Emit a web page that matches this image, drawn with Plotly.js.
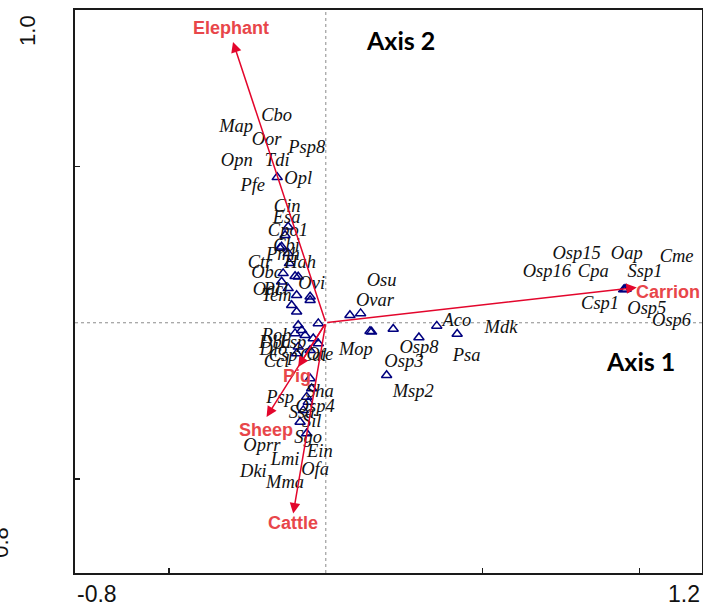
<!DOCTYPE html>
<html>
<head>
<meta charset="utf-8">
<script src="https://cdn.plot.ly/plotly-3.0.1.min.js"></script>
<style>html,body{margin:0;padding:0;background:#fff;}#chart{width:703px;height:608px;}</style>
</head>
<body>
<div id="chart"></div>
<script>
// Species sample scores (triangles)
const speciesX = [0.950, 0.954, 0.958,
  0.077, 0.111, 0.141, 0.146, 0.215, 0.297, 0.354, 0.419, 0.194,
  -0.155, -0.120, -0.130, -0.141, -0.120, -0.146, -0.116, -0.136, -0.098, -0.088, -0.141, -0.120, -0.093, -0.050, -0.109, -0.093, -0.050,
  -0.088, -0.077, -0.098, -0.066, -0.024, -0.040, -0.088, -0.024, -0.050, -0.093, -0.050, -0.045, -0.061, -0.056, -0.072, -0.082, -0.061];
const speciesY = [0.106, 0.107, 0.108,
  0.024, 0.030, -0.027, -0.029, -0.020, -0.047, -0.010, -0.036, -0.168,
  0.465, 0.307, 0.280, 0.243, 0.222, 0.239, 0.190, 0.158, 0.149, 0.147, 0.131, 0.110, 0.088, 0.083, 0.056, 0.035, 0.072,
  -0.008, -0.024, -0.034, -0.040, -0.002, -0.050, -0.077, -0.066, -0.088, -0.098, -0.178, -0.210, -0.237, -0.253, -0.280, -0.317, -0.354];

// Species labels and label positions
const labelNames = ["Osp15","Oap","Cme","Osp16","Cpa","Ssp1","Csp1","Osp5","Osp6",
  "Osu","Ovar","Aco","Mdk","Mop","Osp8","Osp3","Psa","Msp2",
  "Cbo","Map","Oor","Psp8","Opn","Tdi","Opl","Pfe","Cin","Esa","Cpo1","Cbi","Pmh","Ctr","Hah","Obc","Ovi","Oal","Pcl","Tem",
  "Rob","Dba","Dlo","Csp","Ccl","Cal","Ote","Lsp","Sha","Psp","Osp4","Ssa","Sil","Sgo","Oprr","Ein","Lmi","Dki","Ofa","Mma"];
const labelX = [0.800, 0.960, 1.119, 0.705, 0.853, 1.018, 0.875, 1.024, 1.103,
  0.178, 0.157, 0.418, 0.559, 0.096, 0.297, 0.249, 0.449, 0.279,
  -0.157, -0.286, -0.189, -0.061, -0.284, -0.155, -0.088, -0.233, -0.123, -0.125, -0.121, -0.125, -0.137, -0.210, -0.082, -0.189, -0.045, -0.189, -0.159, -0.157,
  -0.157, -0.162, -0.167, -0.136, -0.157, -0.040, -0.019, -0.105, -0.019, -0.146, -0.034, -0.077, -0.045, -0.056, -0.204, -0.019, -0.130, -0.231, -0.034, -0.130];
const labelY = [0.219, 0.219, 0.209, 0.160, 0.160, 0.160, 0.060, 0.044, 0.003,
  0.131, 0.067, 0.003, -0.018, -0.088, -0.082, -0.125, -0.109, -0.221,
  0.659, 0.625, 0.582, 0.558, 0.515, 0.515, 0.459, 0.435, 0.369, 0.335, 0.291, 0.243, 0.216, 0.190, 0.191, 0.158, 0.123, 0.104, 0.104, 0.083,
  -0.045, -0.066, -0.088, -0.109, -0.125, -0.109, -0.104, -0.065, -0.221, -0.242, -0.269, -0.290, -0.317, -0.370, -0.394, -0.413, -0.440, -0.477, -0.472, -0.514];

// Environmental variables (arrows)
const envNames = ["Elephant","Carrion","Cattle","Sheep","Pig"];
const envX = [-0.296, 0.992, -0.104, -0.189, -0.088];
const envY = [0.898, 0.113, -0.610, -0.301, -0.141];
const envLabelX = [-0.302, 1.092, -0.105, -0.191, -0.092];
const envLabelY = [0.942, 0.098, -0.641, -0.343, -0.171];

const xTicks = [-0.5, 0.5, 1.0];
const yTicks = [-0.5, 0.5];

const arrowColor = "#e3062c";
const envLabelColor = "#e8464a";

const traces = [
  {
    type: "scatter", mode: "markers", x: speciesX, y: speciesY,
    marker: {symbol: "triangle-up-open", size: 9, color: "#00007f", line: {width: 1.5, color: "#00007f"}},
    hoverinfo: "skip", showlegend: false
  },
  {
    type: "scatter", mode: "text", x: labelX, y: labelY, text: labelNames,
    textposition: "middle center",
    textfont: {family: "Liberation Serif, Times New Roman, serif", size: 18.5, style: "italic", color: "#111"},
    hoverinfo: "skip", showlegend: false
  }
];

const annotations = [];
for (let i = 0; i < envNames.length; i++) {
  annotations.push({
    x: envX[i], y: envY[i], xref: "x", yref: "y",
    ax: 0, ay: 0, axref: "x", ayref: "y",
    text: "", showarrow: true, arrowhead: 2, arrowsize: 1.4, arrowwidth: 1.5,
    arrowcolor: arrowColor, standoff: 0, startstandoff: 0
  });
}
for (let i = 0; i < envNames.length; i++) {
  annotations.push({
    x: envLabelX[i], y: envLabelY[i], xref: "x", yref: "y",
    text: envNames[i], showarrow: false,
    font: {family: "Liberation Sans, Arial, sans-serif", size: 18, weight: 700, color: envLabelColor}
  });
}
annotations.push({x: 0.237, y: 0.904, xref: "x", yref: "y", text: "<b>Axis 2</b>", showarrow: false,
  font: {family: "Lato, Open Sans, sans-serif", size: 25, color: "#000"}});
annotations.push({x: 1.005, y: -0.123, xref: "x", yref: "y", text: "<b>Axis 1</b>", showarrow: false,
  font: {family: "Lato, Open Sans, sans-serif", size: 25, color: "#000"}});
// axis end labels
const tickFont = {family: "Liberation Sans, Arial, sans-serif", size: 23, color: "#111"};
annotations.push({x: 0, y: -0.038, xref: "paper", yref: "paper", xanchor: "left", yanchor: "middle",
  text: "-0.8", showarrow: false, font: tickFont});
annotations.push({x: 1, y: -0.038, xref: "paper", yref: "paper", xanchor: "right", yanchor: "middle",
  text: "1.2", showarrow: false, font: tickFont});
annotations.push({x: -0.075, y: 0.9645, xref: "paper", yref: "paper", xanchor: "center", yanchor: "middle",
  text: "1.0", textangle: -90, showarrow: false, font: {family: "Liberation Sans, Arial, sans-serif", size: 22, color: "#111"}});
annotations.push({x: -0.118, y: 0.0537, xref: "paper", yref: "paper", xanchor: "center", yanchor: "middle",
  text: "0.8", textangle: -90, showarrow: false, font: {family: "Liberation Sans, Arial, sans-serif", size: 22, color: "#111"}});

const layout = {
  width: 703, height: 608,
  margin: {l: 75, r: 1, t: 10, b: 35},
  paper_bgcolor: "#fff", plot_bgcolor: "#fff",
  showlegend: false,
  xaxis: {range: [-0.8, 1.2], showgrid: false, zeroline: false, showline: true, mirror: true,
    linecolor: "#1a1a1a", linewidth: 2, ticks: "inside", ticklen: 5, tickwidth: 1.5, tickcolor: "#1a1a1a",
    tickvals: xTicks, showticklabels: false, fixedrange: true},
  yaxis: {range: [-0.8, 1.0], showgrid: false, zeroline: false, showline: true, mirror: true,
    linecolor: "#1a1a1a", linewidth: 2, ticks: "inside", ticklen: 5, tickwidth: 1.5, tickcolor: "#1a1a1a",
    tickvals: yTicks, showticklabels: false, fixedrange: true},
  shapes: [
    {type: "line", xref: "x", yref: "paper", x0: 0, x1: 0, y0: 0, y1: 1, layer: "below",
      line: {color: "#8a8a8a", width: 1, dash: "dot"}},
    {type: "line", xref: "paper", yref: "y", x0: 0, x1: 1, y0: 0, y1: 0, layer: "below",
      line: {color: "#8a8a8a", width: 1, dash: "dot"}}
  ],
  annotations: annotations
};

Plotly.newPlot("chart", traces, layout, {displayModeBar: false, staticPlot: true});
</script>
</body>
</html>
